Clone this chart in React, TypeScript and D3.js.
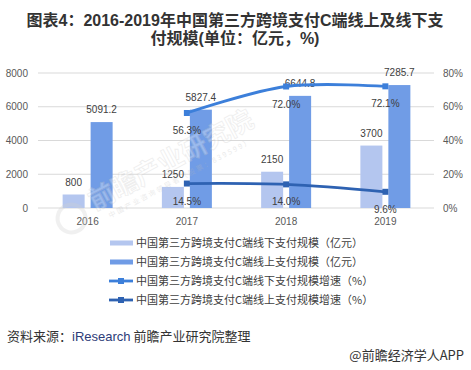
import React from "react";
import * as d3 from "d3";

// chart data
const years = ["2016", "2017", "2018", "2019"];
const offlineScale = [800, 1250, 2150, 3700];
const onlineScale = [5091.2, 5827.4, 6644.8, 7285.7];
const growthYears = ["2017", "2018", "2019"];
const offlineGrowth = [56.3, 72.0, 72.1];
const onlineGrowth = [14.5, 14.0, 9.6];
const leftTicks = [0, 2000, 4000, 6000, 8000];
const rightTicks = [0, 20, 40, 60, 80];
const legendLabels = [
  "中国第三方跨境支付C端线下支付规模（亿元）",
  "中国第三方跨境支付C端线上支付规模（亿元）",
  "中国第三方跨境支付C端线下支付规模增速（%）",
  "中国第三方跨境支付C端线上支付规模增速（%）",
];

const W = 471;
const H = 370;
const C_OFF = "#b4c6ef";
const C_ON = "#709ce6";
const C_LINE1 = "#3c7fda";
const C_LINE2 = "#2e62b2";
const NUM_FONT = "'Liberation Sans', Arial, sans-serif";
const CJK_FONT = "'Noto Sans CJK SC', 'Noto Sans', sans-serif";
const TITLE_FONT = "'Liberation Sans', 'Noto Sans CJK SC', sans-serif";

const App = () => {
  const x = d3.scaleBand().domain(years).range([38, 435]);
  const sub = d3.scaleBand().domain(["off", "on"]).range([-25, 25]).paddingInner(0.214);
  const yL = d3.scaleLinear().domain([0, 8000]).range([208, 73]);
  const yR = d3.scaleLinear().domain([0, 80]).range([208, 73]);
  const cx = (yr: string) => (x(yr) as number) + x.bandwidth() / 2;

  const line = d3
    .line<number>()
    .x((_, i) => cx(growthYears[i]))
    .y((d) => yR(d))
    .curve(d3.curveCatmullRom.alpha(0.5));

  const lineSeries = [
    { values: offlineGrowth, color: C_LINE1 },
    { values: onlineGrowth, color: C_LINE2 },
  ];

  const legendY = [243, 262, 281, 300];

  return (
    <svg
      width={W}
      height={H}
      style={{ position: "absolute", left: 0, top: 0, background: "#fff" }}
    >
      {/* title */}
      <text x={235} y={26} textAnchor="middle" fontFamily={TITLE_FONT} fontWeight="bold" fontSize={16} fill="#333">
        图表4：2016-2019年中国第三方跨境支付C端线上及线下支
      </text>
      <text x={235} y={44} textAnchor="middle" fontFamily={TITLE_FONT} fontWeight="bold" fontSize={16} fill="#333">
        付规模(单位：亿元，%)
      </text>

      {/* grid */}
      {leftTicks.map((t) => (
        <line key={t} x1={38} x2={434} y1={yL(t)} y2={yL(t)} stroke="#d9d9d9" strokeWidth={1} />
      ))}
      {leftTicks.map((t) => (
        <text key={"l" + t} x={28} y={yL(t) + 3.5} textAnchor="end" fontFamily={NUM_FONT} fontSize={10} fill="#595959">
          {t}
        </text>
      ))}
      {rightTicks.map((t) => (
        <text key={"r" + t} x={443} y={yR(t) + 3.5} fontFamily={NUM_FONT} fontSize={10} fill="#595959">
          {t + "%"}
        </text>
      ))}
      {years.map((yr) => (
        <text key={"x" + yr} x={cx(yr)} y={224.5} textAnchor="middle" fontFamily={NUM_FONT} fontSize={10} fill="#595959">
          {yr}
        </text>
      ))}

      {/* bars */}
      {years.map((yr, i) => (
        <g key={"b" + yr}>
          <rect
            x={cx(yr) + (sub("off") as number)}
            width={sub.bandwidth()}
            y={yL(offlineScale[i])}
            height={208 - yL(offlineScale[i])}
            fill={C_OFF}
          />
          <rect
            x={cx(yr) + (sub("on") as number)}
            width={sub.bandwidth()}
            y={yL(onlineScale[i])}
            height={208 - yL(onlineScale[i])}
            fill={C_ON}
          />
          <text
            x={cx(yr) + (sub("off") as number) + sub.bandwidth() / 2}
            y={yL(offlineScale[i]) - 9}
            textAnchor="middle"
            fontFamily={NUM_FONT}
            fontSize={10}
            fill="#404040"
          >
            {offlineScale[i]}
          </text>
          <text
            x={cx(yr) + (sub("on") as number) + sub.bandwidth() / 2}
            y={yL(onlineScale[i]) - 9}
            textAnchor="middle"
            fontFamily={NUM_FONT}
            fontSize={10}
            fill="#404040"
          >
            {onlineScale[i].toFixed(1)}
          </text>
        </g>
      ))}

      {/* watermark */}
      <g transform="translate(175,168) rotate(-28)" opacity={0.3}>
        <text textAnchor="middle" fontFamily={CJK_FONT} fontWeight="bold" fontSize={26} fill="#fff" stroke="#c8c8c8" strokeWidth={0.8}>
          前瞻产业研究院
        </text>
        <text y={14} textAnchor="middle" fontFamily={CJK_FONT} fontSize={7} fill="#bbb" letterSpacing={2}>
          中国产业咨询领导者（股票：839599）
        </text>
        <circle cx={-115} cy={-4} r={14} fill="none" stroke="#d0d0d0" strokeWidth={4} />
      </g>

      {/* lines */}
      {lineSeries.map((s, k) => (
        <g key={"ln" + k}>
          <path d={line(s.values) || ""} fill="none" stroke={s.color} strokeWidth={2.8} />
          {s.values.map((v, i) => (
            <rect key={i} x={cx(growthYears[i]) - 3} y={yR(v) - 3} width={6} height={6} fill={s.color} />
          ))}
          {s.values.map((v, i) => (
            <text
              key={"t" + i}
              x={cx(growthYears[i])}
              y={yR(v) + 21}
              textAnchor="middle"
              fontFamily={NUM_FONT}
              fontSize={10}
              fill="#404040"
            >
              {v.toFixed(1) + "%"}
            </text>
          ))}
        </g>
      ))}

      {/* legend */}
      {legendLabels.map((lab, i) => (
        <g key={"lg" + i}>
          {i < 2 ? (
            <rect x={110} y={legendY[i] - 2.5} width={23} height={5} fill={i === 0 ? C_OFF : C_ON} />
          ) : (
            <g>
              <line x1={109} x2={133} y1={legendY[i]} y2={legendY[i]} stroke={i === 2 ? C_LINE1 : C_LINE2} strokeWidth={2.8} />
              <rect x={118} y={legendY[i] - 3} width={6} height={6} fill={i === 2 ? C_LINE1 : C_LINE2} />
            </g>
          )}
          <text x={136} y={legendY[i] + 4} fontFamily={CJK_FONT} fontSize={11} fill="#404040">
            {lab}
          </text>
        </g>
      ))}

      {/* source */}
      <text x={7} y={341} fontFamily={CJK_FONT} fontSize={13} fill="#333">
        资料来源：<tspan fill="#2d3c78" fontFamily={NUM_FONT}>iResearch</tspan> 前瞻产业研究院整理
      </text>
      <text x={464} y={360} textAnchor="end" fontFamily={CJK_FONT} fontSize={13} fill="#333">
        @前瞻经济学人APP
      </text>
    </svg>
  );
};

export default App;
